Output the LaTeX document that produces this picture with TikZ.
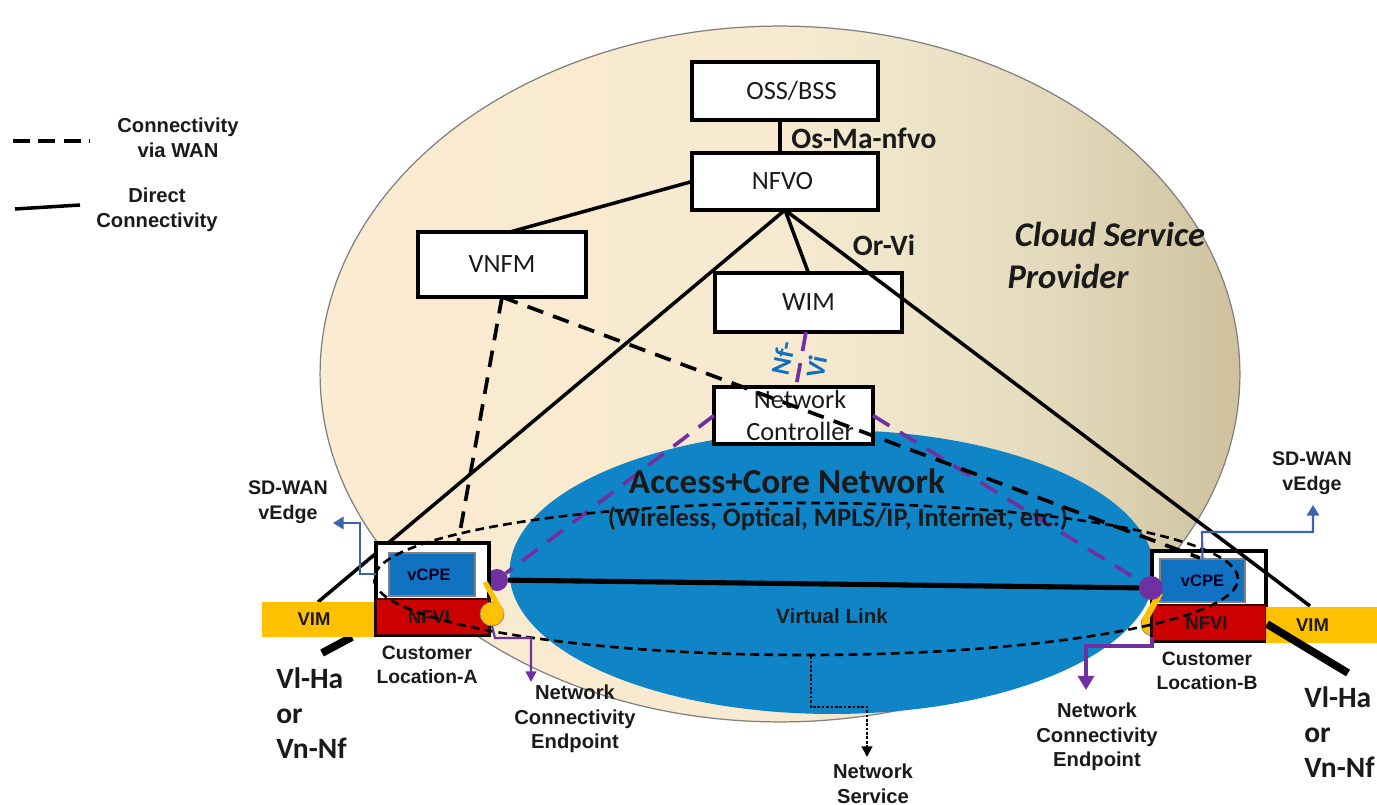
\documentclass[tikz,border=0pt]{standalone}
\usepackage{fontspec}
\setmainfont{Carlito}
\newfontfamily\arialf{Liberation Sans}
\usetikzlibrary{shapes.geometric,arrows.meta}
\definecolor{inkc}{HTML}{1A1A1A}
\definecolor{cloudA}{HTML}{FBEBD0}
\definecolor{cloudB}{HTML}{F7EAD0}
\definecolor{cloudC}{HTML}{EFE6CB}
\definecolor{cloudD}{HTML}{E3D9BB}
\definecolor{cloudE}{HTML}{CFC19D}
\definecolor{netblue}{HTML}{0F85C8}
\definecolor{cpeblue}{HTML}{1072C0}
\definecolor{nfvired}{HTML}{CC0000}
\definecolor{vimyellow}{HTML}{FFC000}
\definecolor{linkpurple}{HTML}{7030A0}
\definecolor{arrowblue}{HTML}{3F62AC}
\definecolor{labelblue}{HTML}{1070BE}
\pgfdeclarehorizontalshading{cloudshade}{100bp}{color(0bp)=(cloudA); color(25bp)=(cloudA); color(50bp)=(cloudB); color(56bp)=(cloudC); color(65bp)=(cloudD); color(75bp)=(cloudE); color(100bp)=(cloudE)}
\tikzset{
  px/.style={x=0.02cm,y=-0.02cm},
  mgmt/.style={draw=black,fill=white,line width=2pt,rectangle,inner sep=0pt,outer sep=0pt,text=inkc,font=\fontsize{15}{18.2}\selectfont,align=center},
  solidlink/.style={draw=black,line width=2pt},
  widelink/.style={draw=black,line width=4.4pt},
  wanlink/.style={draw=black,line width=2.1pt,dash pattern=on 9.5pt off 6pt},
  purplelink/.style={draw=linkpurple,line width=2.1pt,dash pattern=on 11pt off 7pt},
  sidelabel/.style={font=\arialf\bfseries\fontsize{11.5}{14}\selectfont,text=inkc,align=center,inner sep=0pt},
  refpoint/.style={font=\bfseries\fontsize{16.8}{20}\selectfont,text=inkc,align=left,inner sep=0pt,anchor=north west},
  ifacelabel/.style={font=\bfseries\fontsize{16.8}{18}\selectfont,text=inkc,inner sep=0pt},
  flat/.style={rectangle,inner sep=0pt,outer sep=0pt,font=\arialf\bfseries\fontsize{10.5}{12}\selectfont,text=inkc},
  dotc/.style={circle,inner sep=0pt,outer sep=0pt},
  bluearrow/.style={draw=arrowblue,line width=1.2pt,-{Triangle[length=6pt,width=7pt]}},
  purplearrow/.style={draw=linkpurple,line width=1.2pt,-{Triangle[length=6pt,width=6pt]}},
  purplearrowthick/.style={draw=linkpurple,line width=2.1pt,-{Triangle[length=8pt,width=9pt]}},
}
\begin{document}
\begin{tikzpicture}[px]
\useasboundingbox (0,0) rectangle (1377,805);
% cloud and network
\node[ellipse,shading=cloudshade,draw=black!50,line width=0.7pt,minimum width=18.4cm,minimum height=13.92cm,inner sep=0pt] (cloud) at (780,374) {};
\node[ellipse,fill=netblue,minimum width=12.9cm,minimum height=5.68cm,inner sep=0pt] (net) at (832,572) {};
% free ends
\coordinate (vimAtip) at (318,602);
\coordinate (vimBtip) at (1310,606);
\coordinate (wanAend) at (458,543);
\coordinate (wanBend) at (1200,558);
\coordinate (thickAa) at (322,653);
\coordinate (thickAb) at (352,637);
\coordinate (thickBa) at (1267,624);
\coordinate (thickBb) at (1348,673);
% boxes in the cloud
\node[mgmt,minimum width=3.72cm,minimum height=1.16cm] (oss) at (785,91) {\hspace*{0.26cm}OSS/BSS};
\node[mgmt,minimum width=3.72cm,minimum height=1.14cm] (nfvo) at (785,181.5) {NFVO\hspace*{0.1cm}};
\node[mgmt,minimum width=3.36cm,minimum height=1.3cm] (vnfm) at (502,264.5) {VNFM};
\node[mgmt,minimum width=3.74cm,minimum height=1.18cm] (wim) at (808.5,302.5) {WIM};
% lines behind
\draw[solidlink] (oss.south -| 780,0) -- (nfvo.north -| 780,0);
\draw[solidlink] (nfvo.west) -- (vnfm.north -| 510,0);
\draw[solidlink] (nfvo.south) -- (wim.north);
\draw[solidlink] (nfvo.south) -- (vimAtip);
\draw[widelink] (thickAa) -- (thickAb);
% network controller
\node[mgmt,minimum width=3.18cm,minimum height=1.14cm] (nc) at (793.5,415.5) {\hspace*{0.26cm}Network\\\hspace*{0.26cm}Controller};
% location A
\node[dotc,fill=linkpurple,minimum size=0.44cm] (purpleA) at (497,580) {};
\node[flat,fill=vimyellow,minimum width=2.24cm,minimum height=0.7cm] (vimA) at (318,619.5) {VIM\hspace*{0.16cm}};
\node[rectangle,draw=black,fill=white,line width=1.9pt,minimum width=2.26cm,minimum height=1.84cm,inner sep=0pt,outer sep=0pt] (custA) at (432.5,589) {};
\node[flat,fill=nfvired,draw=black!70!nfvired,line width=0.6pt,minimum width=2.26cm,minimum height=0.72cm] (nfviA) at (432.5,617) {NFVI\hspace*{0.14cm}};
\node[flat,fill=cpeblue,draw=gray,line width=1pt,minimum width=1.72cm,minimum height=0.86cm,text=black!85!blue,font=\arialf\bfseries\fontsize{9.4}{11}\selectfont] (vcpeA) at (432,574.5) {vCPE\hspace*{0.12cm}};
\node[dotc,fill=vimyellow,draw=gray,line width=0.4pt,minimum size=0.48cm] (yellowA) at (492,614) {};
\coordinate (sparkA) at (485,582);
\coordinate (sparkAend) at (502,613);
\draw[draw=vimyellow,line width=3pt] (sparkA) -- (sparkAend);
% location B
\node[dotc,fill=vimyellow,draw=gray,line width=0.4pt,minimum size=0.48cm] (yellowB) at (1153,624) {};
\node[rectangle,draw=black,fill=white,line width=1.9pt,minimum width=2.28cm,minimum height=1.8cm,inner sep=0pt,outer sep=0pt] (custB) at (1209,596) {};
\node[flat,fill=nfvired,draw=black!70!nfvired,line width=0.6pt,minimum width=2.28cm,minimum height=0.72cm] (nfviB) at (1209,623) {NFVI\hspace*{0.1cm}};
\node[flat,fill=cpeblue,draw=gray,line width=1pt,minimum width=1.7cm,minimum height=0.86cm,text=black!85!blue,font=\arialf\bfseries\fontsize{9.4}{11}\selectfont] (vcpeB) at (1202.5,580.5) {vCPE};
\coordinate (sparkB) at (1160,593);
\coordinate (sparkBend) at (1145,620);
\draw[draw=vimyellow,line width=3.6pt] (sparkB) -- (sparkBend);
\node[dotc,fill=linkpurple,minimum size=0.48cm] (purpleB) at (1151,588) {};
\node[flat,fill=vimyellow,minimum width=2.22cm,minimum height=0.72cm] (vimB) at (1321.5,625) {VIM\hspace*{0.36cm}};
% purple control links
\draw[purplelink] (wim.south -| 806,0) -- (nc.north -| 796,0);
\draw[purplelink] (nc.west) -- (purpleA);
\draw[purplelink] (nc.east) -- (purpleB);
% virtual link
\draw[draw=black,line width=2.9pt] (purpleA) -- (purpleB);
% nfvo to B, thick B
\draw[solidlink] (nfvo.south) -- (vimBtip);
\draw[widelink] (thickBa) -- (thickBb);
% WAN
\draw[wanlink] (vnfm.south) -- (wanAend);
\draw[wanlink] (vnfm.south) -- (wanBend);
% network service
\node[ellipse,draw=black,line width=1.5pt,dash pattern=on 5pt off 3pt,minimum width=17.28cm,minimum height=3.04cm,inner sep=0pt] (svc) at (806,579) {};
% arrows
\coordinate (blueAtip) at (333,523);
\coordinate (blueBtip) at (1313,505);
\coordinate (purpleAtip) at (531,682);
\coordinate (purpleBtip) at (1086,690);
\coordinate (svcTip) at (867,757);
\draw[bluearrow] (custA.west |- 0,574) -- (360,574) -- (360,523) -- (blueAtip);
\draw[bluearrow] (vcpeB.north) -- (1202,532) -- (1313,532) -- (blueBtip);
\draw[purplearrow] (yellowA.south) -- (495,638) -- (531,638) -- (purpleAtip);
\draw[purplearrowthick] (1152,637) -- (1152,646) -- (1086,646) -- (purpleBtip);
\draw[draw=black,line width=1.2pt,dash pattern=on 1.5pt off 1pt,-{Triangle[length=6pt,width=6pt]}] (svc.south -| 811,0) -- (811,707) -- (867,707) -- (svcTip);
% legend
\coordinate (legDa) at (13,141);
\coordinate (legDb) at (90,141);
\coordinate (legSa) at (15,209);
\coordinate (legSb) at (80,205);
\draw[draw=black,line width=1.8pt,dash pattern=on 9.5pt off 5pt] (legDa) -- (legDb);
\draw[solidlink] (legSa) -- (legSb);
\node[sidelabel] (legD) at (178,138) {Connectivity\\via WAN};
\node[sidelabel] (legS) at (157,210) {Direct\\Connectivity};
% labels
\node[ifacelabel] (osma) at (864,138) {Os-Ma-nfvo};
\node[ifacelabel] (orvi) at (884,245) {Or-Vi};
\node[font=\bfseries\itshape\fontsize{19.7}{24}\selectfont,text=inkc,inner sep=0pt] (cspa) at (1110,234) {Cloud Service};
\node[font=\bfseries\itshape\fontsize{19.7}{24}\selectfont,text=inkc,inner sep=0pt] (cspb) at (1068,276) {Provider};
\node[font=\bfseries\fontsize{20}{24}\selectfont,text=inkc,inner sep=0pt] (acc) at (787,481) {Access+Core Network};
\node[font=\bfseries\fontsize{15.1}{18}\selectfont,text=inkc,inner sep=0pt] (acd) at (838,519) {(Wireless, Optical, MPLS/IP, Internet, etc.)};
\node[font=\arialf\bfseries\fontsize{11.7}{14}\selectfont,text=inkc,inner sep=0pt] (vl) at (832,616) {Virtual Link};
\node[font=\bfseries\fontsize{15}{17}\selectfont,text=labelblue,rotate=78,inner sep=0pt] (nf) at (783,358) {Nf-};
\node[font=\bfseries\fontsize{15}{17}\selectfont,text=labelblue,rotate=78,inner sep=0pt] (vi) at (817,367) {Vi};
\node[sidelabel,font=\arialf\bfseries\fontsize{11.2}{14}\selectfont] (sdA) at (288,502) {SD-WAN\\vEdge};
\node[sidelabel,font=\arialf\bfseries\fontsize{11.2}{14}\selectfont] (sdB) at (1312,473) {SD-WAN\\vEdge};
\node[sidelabel,font=\arialf\bfseries\fontsize{11}{14}\selectfont] (clA) at (427,665) {Customer\\Location-A};
\node[sidelabel,font=\arialf\bfseries\fontsize{11}{14}\selectfont] (clB) at (1207,671) {Customer\\Location-B};
\node[sidelabel] (nceA) at (575,719) {Network\\Connectivity\\Endpoint};
\node[sidelabel] (nceB) at (1097,737) {Network\\Connectivity\\Endpoint};
\node[sidelabel] (ns) at (873,784) {Network\\Service};
\node[refpoint] (refA) at (276,667) {Vl-Ha\\or\\Vn-Nf};
\node[refpoint] (refB) at (1304,686) {Vl-Ha\\or\\Vn-Nf};
\end{tikzpicture}
\end{document}
